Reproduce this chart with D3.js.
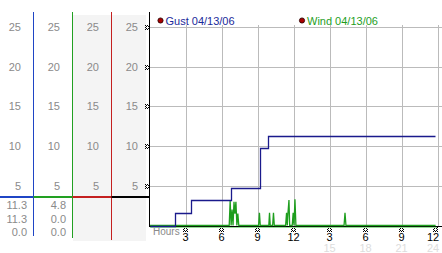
<!DOCTYPE html>
<html>
<head>
	<title>Gust / Wind</title>
	<script src="https://cdn.jsdelivr.net/npm/d3@7"></script>
	<style>
		body { margin: 0; background: #fff; }
		text { font-family: "Liberation Sans", Arial, sans-serif; }
	</style>
</head>
<body>
<script>
// data
var yTicks = [5, 10, 15, 20, 25];
var xTicks = [3, 6, 9, 12, 15, 18, 21, 24];
var xTickLabels = ["3", "6", "9", "12", "3", "6", "9", "12"];
var xTickLabels2 = ["", "", "", "", "15", "18", "21", "24"];

var gustHours = [0, 2.1, 3.4, 6.75, 9.15, 9.8, 23.75];
var gustSpeed = [0, 1.6, 3.2, 4.7, 9.7, 11.3, 11.3];

var windHours = [0, 6.6, 6.68, 6.76, 6.84, 6.92, 7.0, 7.08, 7.16, 7.24, 7.32, 7.4,
                 9.05, 9.12, 9.19, 9.9, 9.96, 10.02, 10.22, 10.29, 10.36,
                 11.3, 11.38, 11.44, 11.5, 11.58, 11.64, 11.72, 11.85, 11.93, 12.0, 12.08, 12.16,
                 16.17, 16.25, 16.33, 23.8];
var windSpeed = [0, 0, 3.1, 0, 2.0, 0, 3.0, 1.5, 3.0, 0, 1.5, 0,
                 0, 1.6, 0, 0, 1.6, 0, 0, 1.6, 0,
                 0, 1.6, 0, 1.6, 3.2, 0, 0, 0, 1.6, 0, 3.3, 0,
                 0, 1.6, 0, 0];

var colLabels = [["11.3", "11.3", "0.0"], ["4.8", "0.0", "0.0"]];

var W = 442, H = 253;
var svg = d3.select("body").append("svg")
	.attr("width", W).attr("height", H);

var x = d3.scaleLinear().domain([0, 24]).range([150, 438]);
var y = d3.scaleLinear().domain([0, 25]).range([225.5, 27]);

// left panel background
svg.append("rect").attr("x", 73).attr("y", 15).attr("width", 73).attr("height", 226)
	.attr("fill", "#f4f4f4");

// grid
svg.append("g").selectAll("line").data(yTicks).enter().append("line")
	.attr("x1", 149).attr("x2", 442)
	.attr("y1", function(d){ return Math.round(y(d)) + 0.5; })
	.attr("y2", function(d){ return Math.round(y(d)) + 0.5; })
	.attr("stroke", "#bbb");
svg.append("g").selectAll("line").data(xTicks).enter().append("line")
	.attr("x1", function(d){ return Math.round(x(d)) + 0.5; })
	.attr("x2", function(d){ return Math.round(x(d)) + 0.5; })
	.attr("y1", 25).attr("y2", 226)
	.attr("stroke", "#bbb");

// left columns
var cols = [{x: 21, line: 33.5, c: "#1f45c5"}, {x: 60, line: 72.5, c: "#22a022"},
            {x: 99, line: 111.5, c: "#c42020"}, {x: 138, line: 149.5, c: "#000"}];
var bottoms = [236, 238, 240, 226];
cols.forEach(function(c, i) {
	svg.append("line").attr("x1", c.line).attr("x2", c.line).attr("y1", 12).attr("y2", bottoms[i])
		.attr("stroke", c.c);
	svg.append("g").selectAll("text").data(yTicks).enter().append("text")
		.attr("x", c.x).attr("y", function(d){ return y(d) + 4; })
		.attr("text-anchor", "end").attr("font-size", 11).attr("fill", "#8a8a8a")
		.text(function(d){ return d; });
	var x0 = i == 0 ? 0 : cols[i - 1].line;
	svg.append("line").attr("x1", x0).attr("x2", c.line + 0.5).attr("y1", 197).attr("y2", 197)
		.attr("stroke", c.c).attr("stroke-width", 2);
});
colLabels.forEach(function(vals, i) {
	svg.append("g").selectAll("text").data(vals).enter().append("text")
		.attr("x", i == 0 ? 27 : 66).attr("y", function(d, j){ return 209 + j * 13.5; })
		.attr("text-anchor", "end").attr("font-size", 11).attr("fill", "#8a8a8a")
		.text(function(d){ return d; });
});

// little hatched tick markers
function marker(g, cx, cy) {
	var pts = [[0,0],[2,0],[4,0],[1,1],[3,1],[0,2],[4,2],[1,3],[3,3],[0,4],[2,4],[4,4]];
	g.append("g").attr("transform", "translate(" + (cx - 2) + "," + (cy - 2) + ")")
		.selectAll("rect").data(pts).enter().append("rect")
		.attr("x", function(p){ return p[0]; }).attr("y", function(p){ return p[1]; })
		.attr("width", 1).attr("height", 1).attr("fill", "#000");
}
var mk = svg.append("g");
yTicks.forEach(function(d){ marker(mk, 147, Math.round(y(d))); });
xTicks.forEach(function(d){ marker(mk, Math.min(Math.round(x(d)) - 1, 435), 229); });

// x labels
function lx(d) { return Math.min(x(d) - 0.5, 433); }
svg.append("g").selectAll("text").data(xTicks).enter().append("text")
	.attr("x", lx).attr("y", 241)
	.attr("text-anchor", "middle").attr("font-size", 11).attr("fill", "#000")
	.text(function(d, i){ return xTickLabels[i]; });
svg.append("g").selectAll("text").data(xTicks).enter().append("text")
	.attr("x", lx).attr("y", 252)
	.attr("text-anchor", "middle").attr("font-size", 11).attr("fill", "#ddd")
	.text(function(d, i){ return xTickLabels2[i]; });
svg.append("text").attr("x", 153).attr("y", 235).attr("font-size", 10).attr("fill", "#8a8a8a")
	.text("Hours");

// axis base
svg.append("line").attr("x1", 149).attr("x2", 442).attr("y1", 226.5).attr("y2", 226.5)
	.attr("stroke", "#000");
svg.append("line").attr("x1", 150).attr("x2", 437).attr("y1", 227.5).attr("y2", 227.5)
	.attr("stroke", "#9d9");

// series
var wind = windHours.map(function(h, i){ return [h, windSpeed[i]]; });
var gust = gustHours.map(function(h, i){ return [h, gustSpeed[i]]; });

svg.append("path").datum(wind)
	.attr("d", d3.line().x(function(d){ return x(d[0]); }).y(function(d){ return y(d[1]); }))
	.attr("fill", "none").attr("stroke", "#1e9e1e").attr("stroke-width", 1.3);
svg.append("path").datum(gust)
	.attr("d", d3.line().curve(d3.curveStepAfter)
		.x(function(d){ return Math.round(x(d[0])) + 0.5; }).y(function(d){ return Math.round(y(d[1])) + 0.5; }))
	.attr("fill", "none").attr("stroke", "#1a1a8c").attr("stroke-width", 1.3);

// legend
var legend = [{t: "Gust 04/13/06", x: 160.5, c: "#1a2a9a"}, {t: "Wind 04/13/06", x: 302, c: "#1e9e1e"}];
legend.forEach(function(l) {
	svg.append("circle").attr("cx", l.x).attr("cy", 20.5).attr("r", 2.6)
		.attr("fill", "#a00").attr("stroke", "#200").attr("stroke-width", 0.8);
	svg.append("text").attr("x", l.x + 5).attr("y", 24.5).attr("font-size", 11).attr("fill", l.c)
		.text(l.t);
});
</script>
</body>
</html>
